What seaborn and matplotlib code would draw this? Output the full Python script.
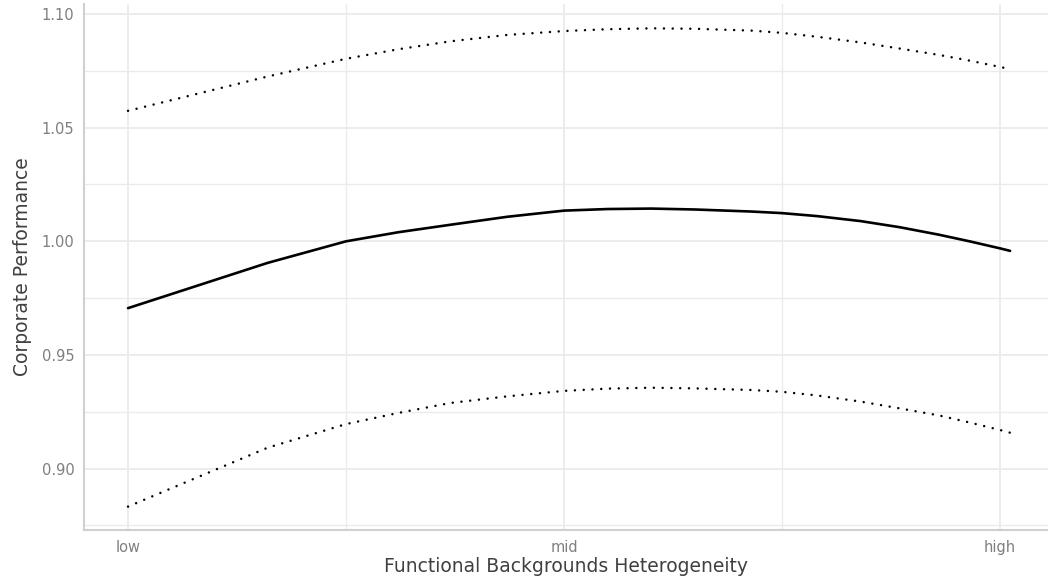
import numpy as np
import pandas as pd
import seaborn as sns
import matplotlib
matplotlib.use("Agg")
import matplotlib.pyplot as plt
from matplotlib.ticker import FixedLocator

# Data (x: 0 = low, 1 = mid, 2 = high)
x_vals = [0.0, 0.32, 0.5, 0.62, 0.74, 0.87, 1.0, 1.1, 1.2, 1.3, 1.43, 1.5, 1.58, 1.68, 1.77, 1.86, 1.93, 2.0, 2.023]
fit_vals = [0.9706, 0.9905, 1.0000, 1.0040, 1.0073, 1.0108, 1.0135, 1.0142, 1.0144, 1.0140, 1.0131, 1.0124, 1.0111, 1.0089, 1.0062, 1.0029, 1.0000, 0.9969, 0.9958]
upper_vals = [1.0574, 1.0725, 1.0803, 1.0845, 1.0880, 1.0908, 1.0925, 1.0933, 1.0937, 1.0935, 1.0927, 1.0917, 1.0900, 1.0875, 1.0848, 1.0820, 1.0795, 1.0767, 1.0758]
lower_vals = [0.8833, 0.9092, 0.9196, 0.9245, 0.9289, 0.9318, 0.9342, 0.9352, 0.9356, 0.9353, 0.9346, 0.9338, 0.9322, 0.9295, 0.9265, 0.9234, 0.9203, 0.9170, 0.9158]

x_ticks = [0, 1, 2]
x_tick_labels = ["low", "mid", "high"]
y_ticks = [0.90, 0.95, 1.00, 1.05, 1.10]
y_tick_labels = ["0.90", "0.95", "1.00", "1.05", "1.10"]

sns.set_theme(style="white")
plt.rcParams["font.family"] = ["DejaVu Sans"]

df = pd.DataFrame({"x": x_vals, "fit": fit_vals, "upper": upper_vals, "lower": lower_vals})

fig = plt.figure(figsize=(10.48, 5.83), dpi=100)
ax = fig.add_axes([84 / 1048, 53 / 583, (1048 - 84) / 1048, (530 - 4) / 583])

dot_style = (0, (0.01, 3.5))
sns.lineplot(data=df, x="x", y="upper", ax=ax, color="black", linewidth=1.8,
             linestyle=dot_style, dash_capstyle="round")
sns.lineplot(data=df, x="x", y="lower", ax=ax, color="black", linewidth=1.8,
             linestyle=dot_style, dash_capstyle="round")
sns.lineplot(data=df, x="x", y="fit", ax=ax, color="black", linewidth=1.9)

ax.set_xlim(-0.101, 2.11)
ax.set_ylim(0.873, 1.1044)

ax.xaxis.set_major_locator(FixedLocator(x_ticks))
ax.set_xticklabels(x_tick_labels)
ax.xaxis.set_minor_locator(FixedLocator([0.5, 1.5]))
ax.yaxis.set_major_locator(FixedLocator(y_ticks))
ax.set_yticklabels(y_tick_labels)
ax.yaxis.set_minor_locator(FixedLocator([0.875, 0.925, 0.975, 1.025, 1.075]))

ax.grid(True, which="major", color="#ebebeb", linewidth=1.3)
ax.grid(True, which="minor", color="#ebebeb", linewidth=1.0)
ax.set_axisbelow(True)

for s in ["top", "right"]:
    ax.spines[s].set_visible(False)
for s in ["left", "bottom"]:
    ax.spines[s].set_color("#d0d0d0")
    ax.spines[s].set_linewidth(1.5)

ax.tick_params(axis="both", which="both", length=0, labelsize=10.5, labelcolor="#7f7f7f")
ax.tick_params(axis="y", pad=7)
ax.tick_params(axis="x", pad=7)

ax.set_xlabel("Functional Backgrounds Heterogeneity", fontsize=13.5, color="#404040", labelpad=2)
ax.set_ylabel("Corporate Performance", fontsize=13.5, color="#404040", labelpad=7)

fig.savefig("out.png", dpi=100)
